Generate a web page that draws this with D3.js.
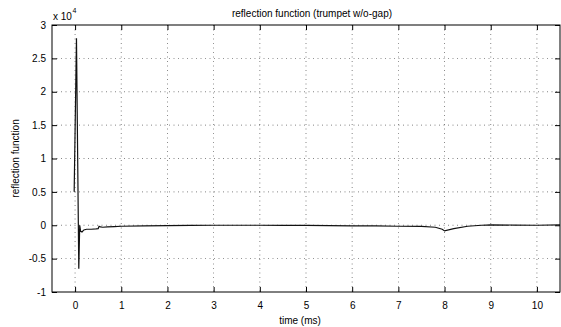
<!DOCTYPE html>
<html><head><meta charset="utf-8">
<script src="https://cdn.jsdelivr.net/npm/d3@7"></script>
<style>body{margin:0;background:#fff}svg{display:block}text{font-family:"Liberation Sans",Arial,Helvetica,sans-serif;fill:#000}</style>
</head><body><svg id="c" width="561" height="327"></svg>
<script>
const timeMs = [-0.02, 0.03, 0.08, 0.1, 0.12, 0.15, 0.19, 0.25, 0.35, 0.45, 0.5, 0.52, 0.55, 0.6, 0.7, 0.85, 1.0, 1.5, 2.0, 2.5, 3.0, 3.5, 4.0, 4.5, 5.0, 5.5, 6.0, 6.5, 7.0, 7.5, 7.8, 7.95, 8.0, 8.2, 8.5, 8.8, 9.0, 9.5, 10.0, 10.5];
const reflection = [5000, 28000, -6500, 0, -900, -1000, -700, -600, -600, -550, -500, -150, -250, -300, -250, -200, -150, -100, -50, -30, 0, 0, 0, -20, -20, -50, -80, -100, -150, -180, -300, -600, -850, -500, -150, 0, 50, 30, 0, 50];
const xTicks = [0,1,2,3,4,5,6,7,8,9,10];
const yTicks = [-1,-0.5,0,0.5,1,1.5,2,2.5,3];
const yTickLabels = ["-1","-0.5","0","0.5","1","1.5","2","2.5","3"];
const title = "reflection function (trumpet w/o-gap)";
const xLabel = "time (ms)";
const yLabel = "reflection function";
const exponentLabel = "x 10";
const exponent = "4";

const FS = "10px";
const svg = d3.select("#c");
const L=52, R=560, T=25, B=292;
const x = d3.scaleLinear().domain([-0.5,10.5]).range([L,R]);
const y = d3.scaleLinear().domain([-1,3]).range([B,T]);
const g = svg.append("g");
// grid
g.selectAll(".gx").data(xTicks).enter().append("line")
 .attr("x1",d=>x(d)).attr("x2",d=>x(d)).attr("y1",T).attr("y2",B)
 .attr("stroke","#000").attr("stroke-width",0.6).attr("stroke-dasharray","1,3.5").attr("opacity",0.8);
g.selectAll(".gy").data(yTicks.slice(1,-1)).enter().append("line")
 .attr("x1",L).attr("x2",R).attr("y1",d=>y(d)).attr("y2",d=>y(d))
 .attr("stroke","#000").attr("stroke-width",0.6).attr("stroke-dasharray","1,3.5").attr("opacity",0.8);
// axes
const xb = d3.axisBottom(x).tickValues(xTicks).tickSize(-5).tickPadding(10).tickFormat(d3.format("d"));
const xt = d3.axisTop(x).tickValues(xTicks).tickSize(-5).tickFormat("");
const yl = d3.axisLeft(y).tickValues(yTicks).tickSize(-5).tickPadding(6).tickFormat((d,i)=>yTickLabels[i]);
const yr = d3.axisRight(y).tickValues(yTicks).tickSize(-5).tickFormat("");
function style(sel){sel.select(".domain").remove();sel.selectAll("line").attr("stroke","#000");sel.selectAll("text").attr("font-size",FS).attr("font-family",'"Liberation Sans",Arial,sans-serif');}
svg.append("g").attr("transform",`translate(0,${B})`).call(xb).call(style);
svg.append("g").attr("transform",`translate(0,${T})`).call(xt).call(style);
svg.append("g").attr("transform",`translate(${L},0)`).call(yl).call(style);
svg.append("g").attr("transform",`translate(${R},0)`).call(yr).call(style);
svg.append("rect").attr("x",L).attr("y",T).attr("width",R-L).attr("height",B-T).attr("fill","none").attr("stroke","#000").attr("stroke-width",1);
// line
const line = d3.line().x((d,i)=>x(timeMs[i])).y(d=>y(d/1e4));
svg.append("path").datum(reflection).attr("d",line).attr("fill","none").attr("stroke","#111").attr("stroke-width",1.2);
// texts
svg.append("text").attr("x",312).attr("y",17).attr("text-anchor","middle").attr("font-size",FS).text(title);
svg.append("text").attr("x",300).attr("y",324).attr("text-anchor","middle").attr("font-size",FS).text(xLabel);
svg.append("text").attr("transform",`translate(19,${(T+B)/2}) rotate(-90)`).attr("text-anchor","middle").attr("font-size",FS).text(yLabel);
svg.append("text").attr("x",53).attr("y",20).attr("font-size",FS).text(exponentLabel);
svg.append("text").attr("x",72.5).attr("y",12.5).attr("font-size","7px").text(exponent);
</script></body></html>
